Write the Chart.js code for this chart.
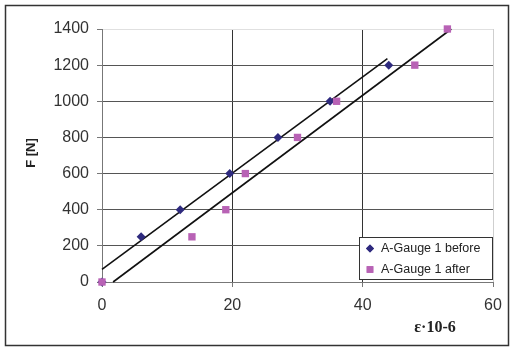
<!DOCTYPE html>
<html>
<head>
<meta charset="utf-8">
<script src="https://cdn.jsdelivr.net/npm/chart.js@4/dist/chart.umd.min.js"></script>
<style>
  html, body { margin: 0; padding: 0; background: #fff; }
  #wrap { width: 512px; height: 348px; position: relative; }
</style>
</head>
<body>
<div id="wrap"><canvas id="c" width="512" height="348"></canvas></div>
<script>
// values
const beforeX = [0, 6, 12, 19.6, 27, 35, 44]
const beforeY = [0, 250, 400, 600, 800, 1000, 1200]
const afterX = [0, 13.8, 19, 22, 30, 36, 48, 53]
const afterY = [0, 250, 400, 600, 800, 1000, 1200, 1400]
// trend line end points
const trendBeforeX = [0, 43.8]
const trendBeforeY = [70, 1236]
const trendAfterX = [1.7, 53.6]
const trendAfterY = [0, 1400]

const seriesLabels = ['A-Gauge 1 before', 'A-Gauge 1 after']
const xTitle = 'ε·10-6'
const yTitle = 'F [N]'

const toPoints = (xs, ys) => xs.map((x, i) => ({ x, y: ys[i] }))

const frame = {
  id: 'frame',
  beforeDraw (chart) {
    const ctx = chart.ctx
    ctx.save()
    ctx.fillStyle = '#fff'
    ctx.fillRect(0, 0, chart.width, chart.height)
    ctx.strokeStyle = '#333'
    ctx.lineWidth = 1.5
    ctx.strokeRect(5.5, 5.5, 503, 340)
    ctx.restore()
  },
  afterDraw (chart) {
    const ctx = chart.ctx
    ctx.save()
    // axis titles
    ctx.fillStyle = '#222'
    ctx.font = 'bold 13px "Liberation Sans", Arial, sans-serif'
    ctx.textAlign = 'center'
    ctx.textBaseline = 'middle'
    ctx.translate(31, 153)
    ctx.rotate(-Math.PI / 2)
    ctx.fillText(yTitle, 0, 0)
    ctx.setTransform(1, 0, 0, 1, 0, 0)
    ctx.font = 'bold 16px "Liberation Serif", "Times New Roman", serif'
    ctx.fillText(xTitle, 435, 328)

    // legend box
    const lx = 359.5, ly = 237.5, lw = 133, lh = 42
    ctx.fillStyle = '#fff'
    ctx.fillRect(lx, ly, lw, lh)
    ctx.strokeStyle = '#333'
    ctx.lineWidth = 1
    ctx.strokeRect(lx, ly, lw, lh)
    ctx.font = '12.5px "Liberation Sans", Arial, sans-serif'
    ctx.textAlign = 'left'
    ctx.textBaseline = 'middle'
    seriesLabels.forEach((label, i) => {
      const ds = chart.data.datasets[i]
      const y = 248.5 + i * 21
      ctx.fillStyle = ds.backgroundColor
      Chart.helpers.drawPoint(ctx, { pointStyle: ds.pointStyle, radius: ds.pointRadius - 0.5, borderWidth: 0 }, 370, y)
      ctx.fill()
      ctx.fillStyle = '#222'
      ctx.fillText(label, 381, y + 0.5)
    })
    ctx.restore()
  }
}

new Chart(document.getElementById('c'), {
  type: 'scatter',
  data: {
    datasets: [
      {
        label: seriesLabels[0],
        data: toPoints(beforeX, beforeY),
        order: 1,
        clip: false,
        pointStyle: 'rectRot',
        pointRadius: 4.5,
        borderWidth: 0,
        backgroundColor: '#2e2a7e',
        borderColor: '#2e2a7e'
      },
      {
        label: seriesLabels[1],
        data: toPoints(afterX, afterY),
        order: 0,
        clip: false,
        pointStyle: 'rect',
        pointRadius: 5.2,
        borderWidth: 0,
        backgroundColor: '#b862b5',
        borderColor: '#b862b5'
      },
      {
        label: 'trend before',
        data: toPoints(trendBeforeX, trendBeforeY),
        order: 2,
        showLine: true,
        pointRadius: 0,
        borderColor: '#111',
        borderWidth: 1.6,
        clip: false
      },
      {
        label: 'trend after',
        data: toPoints(trendAfterX, trendAfterY),
        order: 2,
        showLine: true,
        pointRadius: 0,
        borderColor: '#111',
        borderWidth: 1.6,
        clip: false
      }
    ]
  },
  options: {
    responsive: false,
    animation: false,
    devicePixelRatio: 1,
    layout: { padding: { left: 0, top: 29, right: 19, bottom: 0 } },
    plugins: {
      legend: { display: false },
      tooltip: { enabled: false }
    },
    scales: {
      x: {
        type: 'linear',
        min: 0,
        max: 60,
        afterFit: scale => { scale.height = 66 },
        ticks: {
          stepSize: 20,
          padding: 9,
          color: '#333',
          callback: v => String(v),
          font: { family: '"Liberation Sans", Arial, sans-serif', size: 16 }
        },
        grid: {
          tickLength: 5,
          lineWidth: 1,
          color: ctx => ctx.tick.value === 60 ? '#cfcfcf' : '#333',
          tickColor: '#777'
        },
        border: { color: '#777', width: 1 }
      },
      y: {
        min: 0,
        max: 1400,
        afterFit: scale => { scale.width = 102 },
        ticks: {
          stepSize: 200,
          padding: 8,
          color: '#333',
          callback: v => String(v),
          font: { family: '"Liberation Sans", Arial, sans-serif', size: 16 }
        },
        grid: {
          tickLength: 5,
          lineWidth: 1,
          color: ctx => ctx.tick.value === 1400 ? '#e0e0e0' : '#555',
          tickColor: '#777'
        },
        border: { color: '#777', width: 1 }
      }
    }
  },
  plugins: [frame]
})
</script>
</body>
</html>
